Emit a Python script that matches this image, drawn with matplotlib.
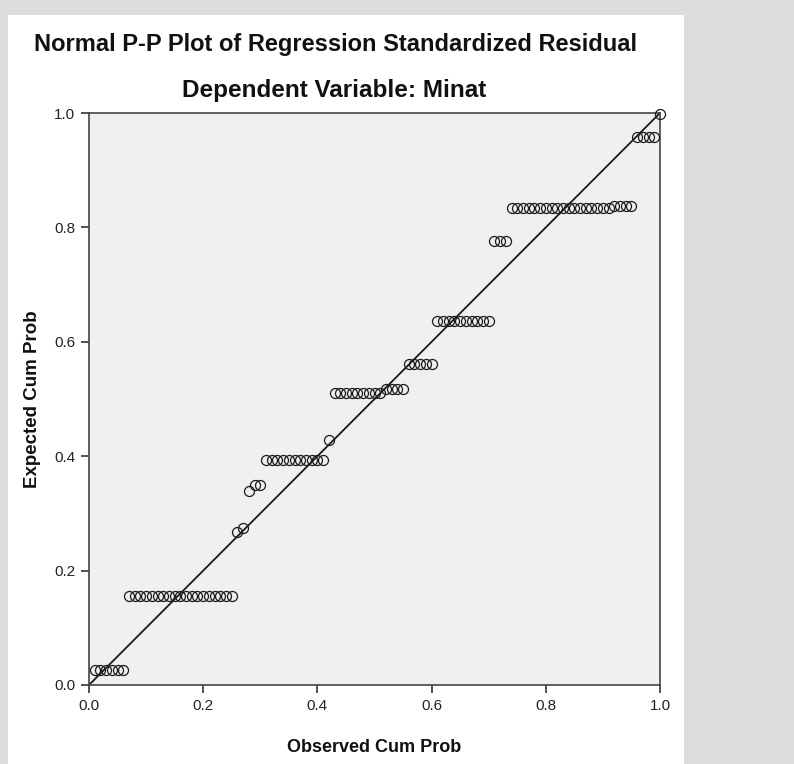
import matplotlib
matplotlib.use("Agg")
import matplotlib.pyplot as plt
from matplotlib.patches import Rectangle

plt.rcParams['font.family'] = ['Liberation Sans', 'DejaVu Sans']

title = "Normal P-P Plot of Regression Standardized Residual"
subtitle = "Dependent Variable: Minat"
x_label = "Observed Cum Prob"
y_label = "Expected Cum Prob"
tick_values = [0.0, 0.2, 0.4, 0.6, 0.8, 1.0]
tick_labels = ["0.0", "0.2", "0.4", "0.6", "0.8", "1.0"]

observed = [0.01, 0.02, 0.03, 0.04, 0.05, 0.06, 0.07, 0.08, 0.09, 0.10,
            0.11, 0.12, 0.13, 0.14, 0.15, 0.16, 0.17, 0.18, 0.19, 0.20,
            0.21, 0.22, 0.23, 0.24, 0.25, 0.26, 0.27, 0.28, 0.29, 0.30,
            0.31, 0.32, 0.33, 0.34, 0.35, 0.36, 0.37, 0.38, 0.39, 0.40,
            0.41, 0.42, 0.43, 0.44, 0.45, 0.46, 0.47, 0.48, 0.49, 0.50,
            0.51, 0.52, 0.53, 0.54, 0.55, 0.56, 0.57, 0.58, 0.59, 0.60,
            0.61, 0.62, 0.63, 0.64, 0.65, 0.66, 0.67, 0.68, 0.69, 0.70,
            0.71, 0.72, 0.73, 0.74, 0.75, 0.76, 0.77, 0.78, 0.79, 0.80,
            0.81, 0.82, 0.83, 0.84, 0.85, 0.86, 0.87, 0.88, 0.89, 0.90,
            0.91, 0.92, 0.93, 0.94, 0.95, 0.96, 0.97, 0.98, 0.99, 1.00]

expected = [0.026, 0.026, 0.026, 0.026, 0.026, 0.026,
            0.155, 0.155, 0.155, 0.155, 0.155, 0.155, 0.155, 0.155, 0.155, 0.155,
            0.155, 0.155, 0.155, 0.155, 0.155, 0.155, 0.155, 0.155, 0.155,
            0.267, 0.275, 0.339, 0.350, 0.350,
            0.393, 0.393, 0.393, 0.393, 0.393, 0.393, 0.393, 0.393, 0.393, 0.393, 0.393,
            0.428,
            0.510, 0.510, 0.510, 0.510, 0.510, 0.510, 0.510, 0.510, 0.510,
            0.517, 0.517, 0.517, 0.517,
            0.562, 0.562, 0.562, 0.562, 0.562,
            0.636, 0.636, 0.636, 0.636, 0.636, 0.636, 0.636, 0.636, 0.636, 0.636,
            0.776, 0.776, 0.776,
            0.834, 0.834, 0.834, 0.834, 0.834, 0.834, 0.834, 0.834, 0.834,
            0.834, 0.834, 0.834, 0.834, 0.834, 0.834, 0.834, 0.834, 0.834,
            0.838, 0.838, 0.838, 0.838,
            0.958, 0.958, 0.958, 0.958,
            0.998]

W, H = 794, 764
fig = plt.figure(figsize=(W / 100, H / 100), dpi=100, facecolor='#dcdcdc')
panel = Rectangle((8 / W, 0), (684 - 8) / W, 1 - 15 / H,
                  transform=fig.transFigure, facecolor='white',
                  edgecolor='none', zorder=-10)
fig.add_artist(panel)

ax = fig.add_axes([89 / W, 1 - 685 / H, (660 - 89) / W, (685 - 113) / H])
ax.set_zorder(5)
ax.set_facecolor('#f0f0f0')
ax.set_xlim(0, 1)
ax.set_ylim(0, 1)

ax.plot([0, 1], [0, 1], color='#1a1a1a', lw=1.3, zorder=2)
ax.plot(observed, expected, linestyle='none', marker='o', markersize=7.2,
        markerfacecolor='none', markeredgecolor='#1a1a1a', markeredgewidth=0.9,
        zorder=3, clip_on=False)

ax.set_xticks(tick_values)
ax.set_xticklabels(tick_labels)
ax.set_yticks(tick_values)
ax.set_yticklabels(tick_labels)
ax.tick_params(direction='out', length=6, width=1.2, color='#333333',
               labelsize=11, labelcolor='#222222', pad=4)
for s in ax.spines.values():
    s.set_color('#444444')
    s.set_linewidth(1.2)

ax.set_xlabel(x_label, fontsize=13, fontweight='bold', labelpad=19, color='#111111')
ax.set_ylabel(y_label, fontsize=13.5, fontweight='bold', labelpad=9, color='#111111')

fig.text(335 / W, 1 - 44 / H, title, ha='center', va='center',
         fontsize=17, fontweight='bold', color='#111111')
fig.text(334 / W, 1 - 91 / H, subtitle, ha='center', va='center',
         fontsize=17.5, fontweight='bold', color='#111111')

fig.savefig('out.png', dpi=100, facecolor=fig.get_facecolor())
